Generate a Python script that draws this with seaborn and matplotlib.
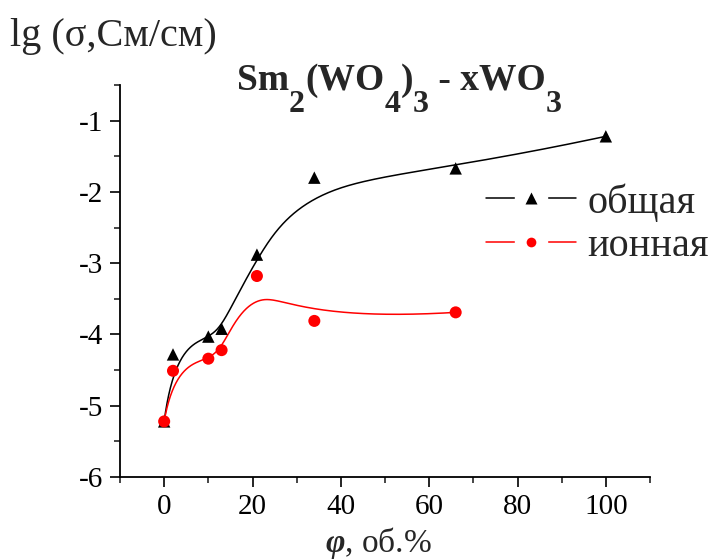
import numpy as np
import pandas as pd
import matplotlib
matplotlib.use("Agg")
import matplotlib.pyplot as plt
import seaborn as sns
from matplotlib.lines import Line2D
from matplotlib.ticker import MultipleLocator

# Datos
phi_total = [0, 2, 10, 13, 21, 34, 66, 100]
lg_total = [-5.22, -4.28, -4.03, -3.92, -2.88, -1.80, -1.67, -1.22]
phi_ion = [0, 2, 10, 13, 21, 34, 66]
lg_ion = [-5.22, -4.51, -4.34, -4.22, -3.18, -3.81, -3.69]

sns.set_theme(style="ticks")
plt.rcParams['font.family'] = ['Liberation Serif', 'DejaVu Serif']
plt.rcParams['axes.unicode_minus'] = False
plt.rcParams['mathtext.fontset'] = 'custom'
plt.rcParams['mathtext.rm'] = 'Liberation Serif'
plt.rcParams['mathtext.bf'] = 'Liberation Serif:bold'
plt.rcParams['mathtext.it'] = 'Liberation Serif:italic'
plt.rcParams['mathtext.bfit'] = 'Liberation Serif:italic:bold'


def bspline(px, py, n_out=400, k=3):
    # B-spline con los puntos como puntos de control (estilo Origin)
    px = np.asarray(px, float)
    py = np.asarray(py, float)
    n = len(px)
    k = min(k, n - 1)
    m = n - k
    knots = np.concatenate([np.zeros(k), np.arange(m + 1), np.full(k, m)]).astype(float)
    t = np.linspace(0, m, n_out)
    B = np.zeros((n_out, len(knots) - 1))
    for i in range(len(knots) - 1):
        B[:, i] = (knots[i] <= t) & (t < knots[i + 1])
    B[t == m, n - 1] = 1.0
    for d in range(1, k + 1):
        nb = np.zeros((n_out, len(knots) - 1 - d))
        for i in range(len(knots) - 1 - d):
            den1 = knots[i + d] - knots[i]
            den2 = knots[i + d + 1] - knots[i + 1]
            left = (t - knots[i]) / den1 if den1 > 0 else 0.0
            right = (knots[i + d + 1] - t) / den2 if den2 > 0 else 0.0
            nb[:, i] = left * B[:, i] + right * B[:, i + 1]
        B = nb
    return B @ px, B @ py


cx1, cy1 = bspline(phi_total, lg_total)
cx2, cy2 = bspline(phi_ion, lg_ion)

W, H = 711, 560
fig = plt.figure(figsize=(W / 100, H / 100), dpi=100)
ax = fig.add_axes([120 / W, 1 - 477 / H, 530 / W, 392 / H])

sns.lineplot(x=cx1, y=cy1, ax=ax, color='black', lw=1.1, sort=False, estimator=None)
sns.lineplot(x=cx2, y=cy2, ax=ax, color='red', lw=1.1, sort=False, estimator=None)
sns.scatterplot(x=phi_total, y=lg_total, ax=ax, marker='^', color='black', s=80,
                edgecolor='none', zorder=3)
sns.scatterplot(x=phi_ion, y=lg_ion, ax=ax, marker='o', color='red', s=75,
                edgecolor='none', zorder=4)

ax.set_xlim(-10, 110)
ax.set_ylim(-6, -0.5)
ax.xaxis.set_major_locator(MultipleLocator(20))
ax.xaxis.set_minor_locator(MultipleLocator(10))
ax.yaxis.set_major_locator(MultipleLocator(1))
ax.yaxis.set_minor_locator(MultipleLocator(0.5))
ax.tick_params(which='major', direction='out', length=7, width=1.2, labelsize=21,
               colors='black', pad=5)
ax.tick_params(which='minor', direction='out', length=4, width=1.2)
for s in ['top', 'right']:
    ax.spines[s].set_visible(False)
for s in ['left', 'bottom']:
    ax.spines[s].set_linewidth(1.3)
    ax.spines[s].set_color('black')
ax.set_xlabel(None)
ax.set_ylabel(None)

fig.text(10 / W, 1 - 46 / H, 'lg (σ,См/см)', fontsize=29, va='baseline', ha='left')
fig.text(378 / W, 1 - 552 / H, r'$\mathbfit{\varphi}$, об.%', fontsize=24,
         ha='center', va='baseline')

# Título con subíndices grandes (estilo Origin)
title_parts = [('Sm', 0), ('2', 1), ('(WO', 0), ('4', 1), (')', 0), ('3', 1),
               (' - xWO', 0), ('3', 1)]
renderer = fig.canvas.get_renderer()
x_px, base_px = 237, H - 90
for txt, sub in title_parts:
    t = fig.text(x_px / W, (base_px - 22 * sub) / H, txt, fontsize=23 if sub else 27,
                 fontweight='bold', va='baseline', ha='left')
    x_px = t.get_window_extent(renderer).x1

# Leyenda con hueco alrededor del marcador
def handle(color, marker, ms):
    ln = Line2D([], [], color=color, lw=1.1)
    gap = Line2D([], [], color='white', marker='s', ms=23, ls='none')
    mk = Line2D([], [], color=color, marker=marker, ms=ms, ls='none', mec='none')
    return (ln, gap, mk)

leg = fig.legend([handle('black', '^', 8), handle('red', 'o', 7)], ['общая', 'ионная'],
                 loc='upper left', bbox_to_anchor=(486 / W, 1 - 183 / H),
                 frameon=False, fontsize=29, handlelength=2.24, handletextpad=0.27,
                 labelspacing=0.15, borderaxespad=0, borderpad=0)

fig.savefig('out.png', dpi=100)
